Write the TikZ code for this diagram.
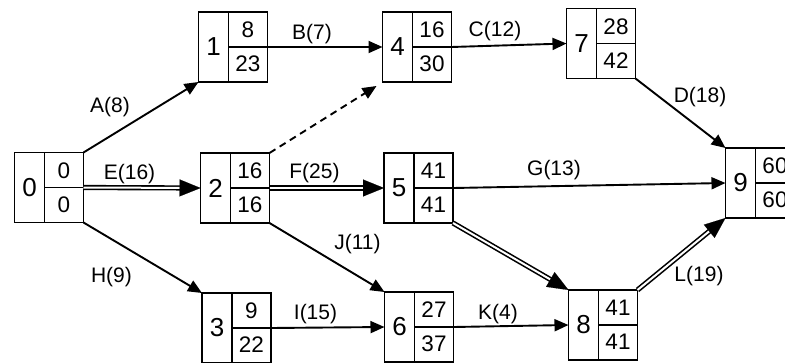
\documentclass[tikz,border=0pt]{standalone}
\usepackage{fontspec}
\setmainfont{Liberation Sans}
\usetikzlibrary{arrows.meta,calc}

\tikzset{
  ebox/.style={draw, line width=1.6pt, minimum width=69pt, minimum height=70pt,
               inner sep=0pt, outer sep=0pt},
  boxline/.style={line width=1.6pt},
  bignum/.style={font=\fontsize{26}{26}\selectfont, inner sep=0pt},
  num/.style={font=\fontsize{22.5}{22.5}\selectfont, inner sep=0pt},
  lbl/.style={font=\fontsize{21}{21}\selectfont, inner sep=0pt},
  act/.style={line width=1.9pt, -{Triangle[length=14pt,width=12pt]}},
  dummy/.style={act, dash pattern=on 7pt off 5pt},
  crit/.style={double, double distance=2pt, line width=1.6pt},
  crittip/.style={line width=0.1pt, -{Triangle[length=21pt,width=17pt]}},
}

% event box: name, x, y, number, earliest time, latest time
\newcommand\evbox[6]{%
  \node[ebox] (#1) at (#2,#3) {};
  \draw[boxline] ($(#1.north west)+(30pt,0)$) -- ($(#1.south west)+(30pt,0)$);
  \draw[boxline] ($(#1.west)+(30pt,0)$) -- (#1.east);
  \node[bignum] at ($(#1.west)+(15pt,0)$) {#4};
  \node[num] at ($(#1.center)+(15pt,17pt)$) {#5};
  \node[num] at ($(#1.center)+(15pt,-17pt)$) {#6};
}

% critical activity: double line with a separate filled tip
\newcommand\critedge[2]{%
  \draw[crit, shorten >=19pt] (#1) -- (#2);
  \draw[crittip] ($(#2)!20pt!(#1)$) -- (#2);
}

\begin{document}
\begin{tikzpicture}[x=1pt, y=-1pt]
  \useasboundingbox (0,0) rectangle (785,362);
  \begin{scope}
  \clip (0,0) rectangle (785,362);

  \evbox{n0}{49}{187.5}{0}{0}{0}
  \evbox{n1}{233}{47}{1}{8}{23}
  \evbox{n4}{417}{47}{4}{16}{30}
  \evbox{n7}{601}{43.5}{7}{28}{42}
  \evbox{n2}{235}{188}{2}{16}{16}
  \evbox{n5}{418.5}{188}{5}{41}{41}
  \evbox{n9}{760}{183}{9}{60}{60}
  \evbox{n3}{236.5}{328}{3}{9}{22}
  \evbox{n6}{419}{327}{6}{27}{37}
  \evbox{n8}{603}{325}{8}{41}{41}

  % ordinary activities
  \draw[act] (n0.north east) -- (n1.south west);
  \draw[act] (n1.east) -- (n4.west);
  \draw[act] (n4.east) -- (n7.west);
  \draw[act] (n7.south east) -- (n9.north west);
  \draw[act] (n5.east) -- (n9.west);
  \draw[act] (n2.south east) -- (n6.north west);
  \draw[act] (n0.south east) -- (n3.north west);
  \draw[act] (n3.east) -- (n6.west);
  \draw[act] (n6.east) -- (n8.west);

  % dummy activity
  \draw[dummy] (n2.north east) -- ($(n4.south west)+(-6pt,-4pt)$);

  % critical path
  \critedge{n0.east}{n2.west}
  \critedge{n2.east}{n5.west}
  \critedge{n5.south east}{n8.north west}
  \critedge{n8.north east}{n9.south west}

  % activity labels
  \node[lbl] (lA) at (110,107) {A(8)};
  \node[lbl] (lB) at (312,34) {B(7)};
  \node[lbl] (lC) at (495,31) {C(12)};
  \node[lbl] (lD) at (700,97) {D(18)};
  \node[lbl] (lE) at (129.5,174) {E(16)};
  \node[lbl] (lF) at (314.5,173.5) {F(25)};
  \node[lbl] (lG) at (554,170) {G(13)};
  \node[lbl] (lJ) at (357.5,244) {J(11)};
  \node[lbl] (lH) at (111.5,277) {H(9)};
  \node[lbl] (lI) at (315.5,314) {I(15)};
  \node[lbl] (lK) at (498,314) {K(4)};
  \node[lbl] (lL) at (699,276) {L(19)};
  \end{scope}
\end{tikzpicture}
\end{document}
